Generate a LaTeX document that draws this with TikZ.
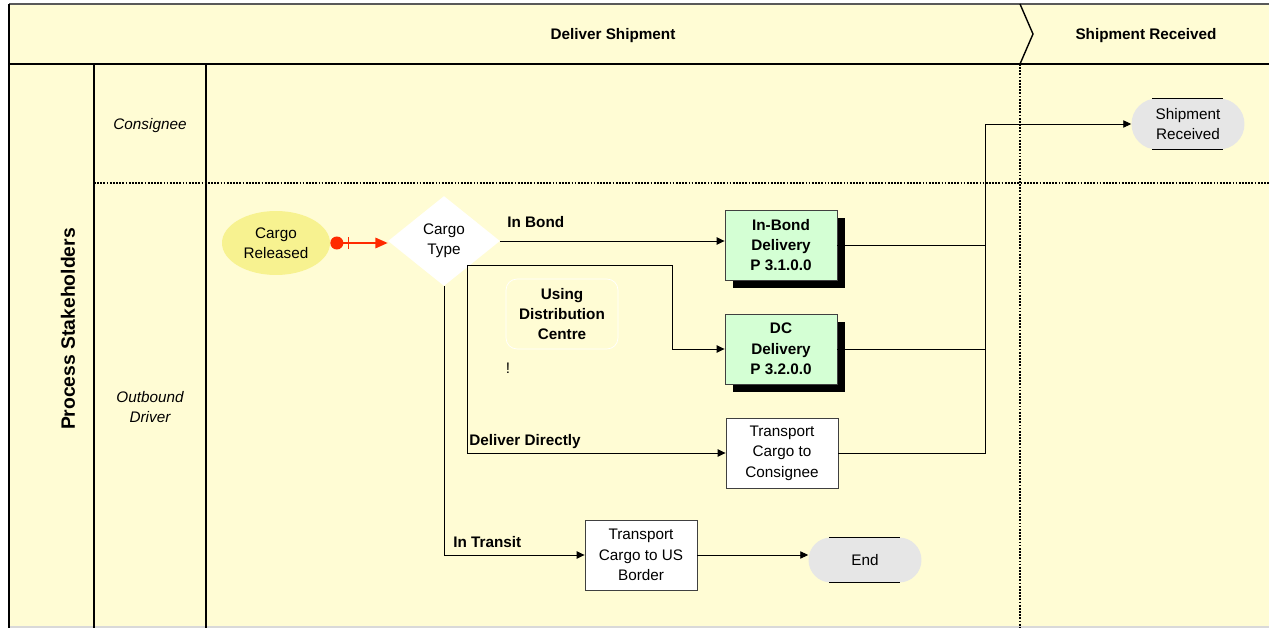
\documentclass[tikz,border=0pt]{standalone}
\usepackage{fontspec}
\setmainfont{Liberation Sans}
\usetikzlibrary{positioning,shapes.geometric,arrows.meta,shadows}
\definecolor{lanebg}{HTML}{FFFCD4}
\definecolor{startyellow}{HTML}{F7F290}
\definecolor{subgreen}{HTML}{D4FFD4}
\definecolor{termgray}{HTML}{E6E6E6}
\definecolor{trigred}{HTML}{FF2A00}
\newcommand{\txt}{\fontsize{8.7}{11.6}\selectfont}

\begin{document}
\begin{tikzpicture}[x=0.02cm, y=-0.02cm,
  every node/.style={font=\txt, align=center},
  frame/.style={line width=1.3pt},
  lanesep/.style={line width=0.9pt, dash pattern=on 1pt off 0.8pt},
  task/.style={draw=black!75, fill=white, line width=0.5pt,
    minimum width=2.24cm, minimum height=1.4cm, inner sep=1pt},
  subproc/.style={task, fill=subgreen, font=\txt\bfseries,
    general shadow={fill=black, shadow xshift=0.16cm, shadow yshift=-0.16cm}},
  event/.style={ellipse, fill=startyellow, minimum width=2.16cm,
    minimum height=1.28cm, inner sep=0pt},
  decision/.style={diamond, fill=white, minimum width=2.24cm,
    minimum height=1.8cm, inner sep=0pt},
  terminal/.style={fill=termgray, minimum width=2.26cm, inner sep=0pt},
  flow/.style={-{Triangle[length=4.5pt,width=4.2pt]}, line width=0.55pt},
  link/.style={line width=0.55pt},
  cond/.style={font=\txt\bfseries, anchor=west, inner sep=0pt},
  lanelabel/.style={font=\txt\itshape}]
\useasboundingbox (0,0) rectangle (1269,628);
\fill[lanebg] (9,4) rectangle (1269,627);
\draw[black!65, line width=1pt] (9,4) -- (1269,4);
\draw[black!15, line width=0.6pt] (9,627) -- (1269,627);
\draw[frame] (9,4) -- (9,628);
\draw[frame] (9,64) -- (1269,64);
\draw[frame] (94,64) -- (94,628);
\draw[frame] (206,64) -- (206,628);
\draw[line width=0.8pt] (1020,4) -- (1033,34) -- (1020,64);
\draw[lanesep] (94,183) -- (1269,183);
\draw[lanesep] (1020,64) -- (1020,627);

\node[font=\txt\bfseries] (hdeliver) at (613,36) {Deliver Shipment};
\node[font=\txt\bfseries] (hreceived) at (1146,36) {Shipment Received};
\node[font=\fontsize{11}{13}\selectfont\bfseries, rotate=90] (stake) at (68,329) {Process Stakeholders};
\node[lanelabel] (lconsignee) at (150,126) {Consignee};
\node[lanelabel] (ldriver) at (150,407) {Outbound\\Driver};

\node[event] (crel) at (276,243) {Cargo\\Released};
\node[decision] (ctype) at (444,241) {Cargo\\Type};
\node[subproc] (inbond) at (781,245) {In-Bond\\Delivery\\P 3.1.0.0};
\node[subproc] (dc) at (781,349) {DC\\Delivery\\P 3.2.0.0};
\node[task] (direct) at (782,453) {Transport\\Cargo to\\Consignee};
\node[task] (usb) at (641,555) {Transport\\Cargo to US\\Border};
\node[terminal, minimum height=0.9cm, rounded corners=0.45cm] (end) at (865,560) {End};
\node[terminal, minimum height=1.02cm, rounded corners=0.51cm] (shiprec) at (1188,124) {Shipment\\Received};
\node[draw=white, rounded corners=0.22cm, minimum width=2.24cm, minimum height=1.4cm,
  font=\txt\bfseries] (udc) at (562,314) {Using\\Distribution\\Centre};
\node (bang) at (508,368) {!};

\draw[line width=0.6pt] ([xshift=0.42cm]end.north west) -- ([xshift=-0.44cm]end.north east);
\draw[line width=0.6pt] ([xshift=0.42cm]end.south west) -- ([xshift=-0.44cm]end.south east);
\draw[line width=0.6pt] ([xshift=0.42cm]shiprec.north west) -- ([xshift=-0.44cm]shiprec.north east);
\draw[line width=0.6pt] ([xshift=0.42cm]shiprec.south west) -- ([xshift=-0.44cm]shiprec.south east);

\coordinate (split) at (467,265);
\coordinate (dcx) at (672,265);
\coordinate (merge) at (985,124);

\draw[trigred, line width=0.9pt, {Circle[length=7.4pt] Bar[width=7pt,sep=2.5pt]}-{Triangle[length=7pt,width=6pt]}]
  (crel.east) -- (crel.east -| ctype.west);
\draw[flow] (ctype.east) -- (ctype.east -| inbond.west);
\draw[flow] (split) -- (dcx) |- (dc.west);
\draw[flow] (split) |- (direct.west);
\draw[flow] (ctype.south) |- (usb.west);
\draw[flow] (usb.east) -- (usb.east -| end.west);
\draw[link] (inbond.east) -- (inbond.east -| merge);
\draw[link] (dc.east) -- (dc.east -| merge);
\draw[flow] (direct.east) -| (merge) -- (shiprec.west);

\node[cond] (lbond) at (507,222) {In Bond};
\node[cond] (ldirect) at (469,442) {Deliver Directly};
\node[cond] (ltransit) at (453,542) {In Transit};
\end{tikzpicture}
\end{document}
